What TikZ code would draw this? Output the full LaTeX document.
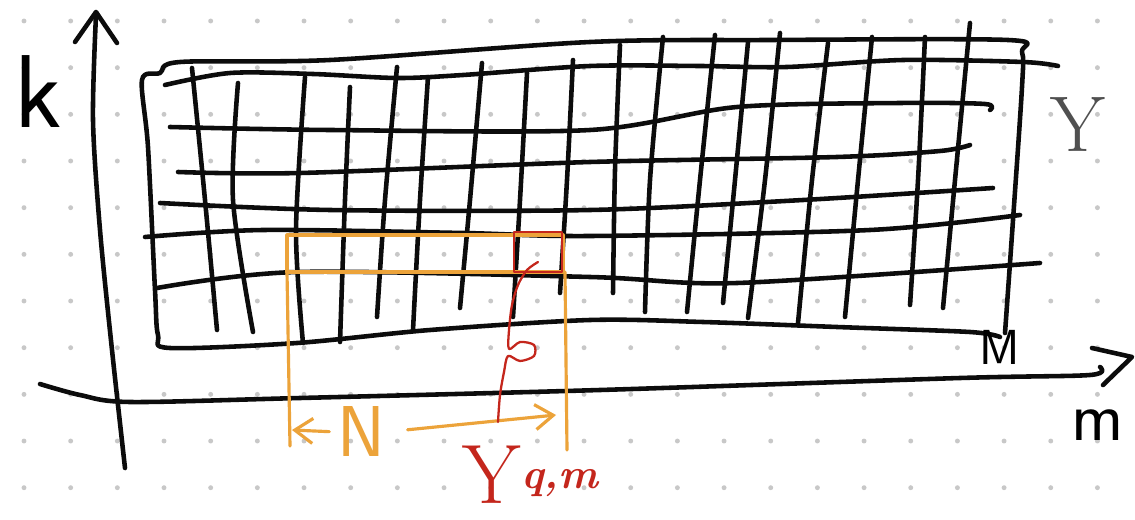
\documentclass[tikz,border=0pt]{standalone}
\usetikzlibrary{arrows.meta}
\definecolor{ink}{RGB}{12,12,12}
\definecolor{marker}{RGB}{236,163,58}
\definecolor{redpen}{RGB}{196,38,28}
\definecolor{dotgray}{RGB}{200,200,200}
\definecolor{pencil}{RGB}{80,80,80}
\tikzset{
  >={Straight Barb[length=3.6mm,width=5mm]},
  pen/.style={draw=ink,line width=2.6pt,line cap=round,line join=round},
  hl/.style={draw=marker,line width=1.8pt,line cap=round,line join=round},
  redline/.style={draw=redpen,line width=1.3pt,line cap=round,line join=round},
  hand/.style={inner sep=0pt,font=\fontsize{#1}{#1}\selectfont},
}

\begin{document}
\begin{tikzpicture}[x=0.02cm,y=-0.02cm]
  \useasboundingbox[fill=white] (0,0) rectangle (1135,520);
  % dot paper
  \foreach \i in {0,...,23}
    \foreach \j in {0,...,10}
      \fill[dotgray] (24+46.67*\i,21+46.67*\j) circle (1.4pt);

  % outline of the table Y
  \draw[pen] plot[smooth] coordinates {(1000,337) (970,332) (837,327) (703,322)
    (590,320) (430,330) (297,343) (170,348) (158,335) (155,290) (148,147) (142,80)
    (160,73) (180,62) (330,60) (590,42) (770,40) (1008,40) (1022,52) (1022,87)
    (1013,220) (1005,333)};

  % rows
  \draw[pen] plot[smooth] coordinates {(165,85) (230,73) (313,74) (397,78) (463,75)
    (590,66) (700,66) (787,67) (903,60) (1023,62) (1058,66)};
  \draw[pen] plot[smooth] coordinates {(170,127) (330,130) (590,130) (737,107)
    (900,103) (985,104) (990,110)};
  \draw[pen] plot[smooth] coordinates {(178,172) (300,173) (590,162) (837,157)
    (940,151) (970,145)};
  \draw[pen] plot[smooth] coordinates {(160,203) (330,210) (590,210) (803,200)
    (993,188)};
  \draw[pen] plot[smooth] coordinates {(145,237) (263,230) (463,233) (590,236)
    (870,230) (1020,215)};
  \draw[pen] plot[smooth] coordinates {(157,288) (297,272) (590,277) (737,283)
    (1040,263)};

  % columns
  \foreach \a/\b/\c/\d/\e/\f in {192/68/205/200/217/330, 238/83/233/200/253/332,
      305/77/296/230/303/343, 350/87/345/200/340/342, 397/67/385/200/377/317,
      428/77/420/200/413/330, 482/63/470/200/460/308, 527/73/520/200/513/317,
      573/60/567/180/560/293, 620/45/615/170/613/293, 663/37/650/180/645/312,
      715/35/700/180/687/312, 748/42/735/180/723/303, 780/33/765/180/748/318,
      828/43/812/180/798/323, 872/37/858/180/845/317, 925/37/918/180/910/305,
      970/23/955/180/943/308}
    \draw[pen] plot[smooth] coordinates {(\a,\b) (\c,\d) (\e,\f)};

  % axes
  \draw[pen] plot[smooth] coordinates {(125,468) (112,350) (100,230) (93,120) (96,15)};
  \draw[pen] (75,42) -- (96,12) -- (117,43);
  \draw[pen] plot[smooth] coordinates {(40,384) (80,395) (130,402) (300,398)
    (600,390) (960,378) (1090,375) (1100,367)};
  \draw[pen] (1092,348) -- (1132,357) -- (1103,385);

  \node[hand=59,font=\fontsize{59}{59}\sffamily] (klabel) at (38,92) {k};
  \node[hand=40,font=\fontsize{40}{40}\sffamily] (mlabel) at (1098,425) {m};
  \node[hand=28,font=\fontsize{28}{28}\sffamily] (Mlabel) at (1000,347) {M};
  \node[hand=45,text=pencil] (Ylabel) at (1078,125) {Y};

  % highlighted strip of N entries
  \draw[hl] (287,235) rectangle (563,272);
  \draw[hl] (287,272) -- (290,446);
  \draw[hl] (565,272) -- (567,450);
  \node[hand=41,font=\fontsize{41}{41}\sffamily,text=marker] (N) at (361,432) {N};
  \coordinate (nleft) at (292,430);
  \coordinate (nright) at (556,415);
  \draw[hl,->,shorten <=1.5mm] (N.west) -- (nleft);
  \draw[hl,->,shorten <=4.5mm] (N.east) -- (nright);

  % one entry
  \draw[redline] (514,232) rectangle (562,272);
  \node[hand=48,text=redpen] (Yqm) at (492,475) {Y};
  \node[hand=24,font=\fontsize{24}{24}\bfseries\itshape,text=redpen,anchor=base west]
    (qm) at (521,488) {q,m};
  \draw[redline] plot[smooth] coordinates {(498,422) (500,395) (504,372) (508,356)
    (520,361) (534,356) (534,345) (520,342) (509,349) (509,330) (512,305) (518,285)
    (527,270) (538,262)};
\end{tikzpicture}
\end{document}
